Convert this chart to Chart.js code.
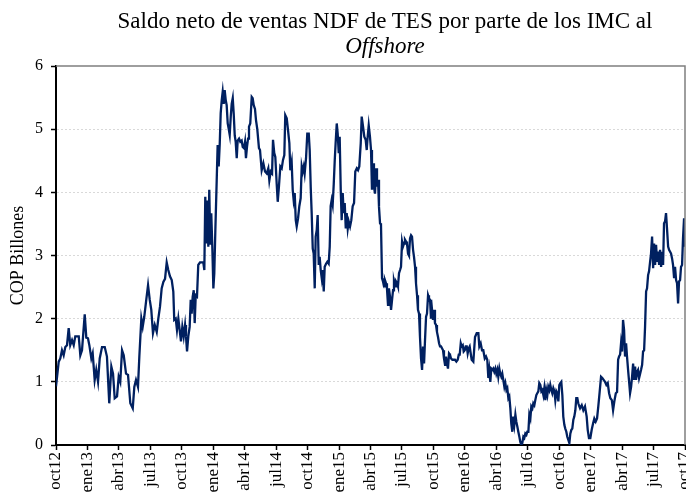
<!DOCTYPE html>
<html>
<head>
<meta charset="utf-8">
<script src="https://cdn.jsdelivr.net/npm/chart.js@4.4.1/dist/chart.umd.min.js"></script>
<style>
  html, body { margin: 0; padding: 0; background: #fff; overflow: hidden; }
  #wrap { position: relative; width: 686px; height: 495px; }
  .titulo { position: absolute; left: 42px; width: 686px; text-align: center;
            font-family: "Liberation Serif", "Times New Roman", serif; font-size: 23px;
            line-height: 25px; color: #000; white-space: nowrap; }
  canvas { position: absolute; left: 0; top: 0; }
</style>
</head>
<body>
<div id="wrap">
  <canvas id="saldoChart" width="686" height="495"></canvas>
  <div class="titulo" style="top: 8px;">Saldo neto de ventas NDF de TES por parte de los IMC al</div>
  <div class="titulo" style="top: 33px;"><i>Offshore</i></div>
</div>
<script>
// meses desde oct12 (oct12 = 0, oct17 = 60)
const meses = [
  0,0.26,0.41,0.57,0.73,0.89,1.05,1.21,1.36,1.53,
  1.69,1.84,2.17,2.32,2.48,2.64,2.74,2.89,3.05,3.18,
  3.37,3.5,3.69,3.84,4.01,4.17,4.39,4.65,4.86,5.08,
  5.28,5.44,5.6,5.82,5.98,6.13,6.3,6.46,6.68,6.87,
  7.09,7.32,7.47,7.63,7.82,7.95,8.14,8.27,8.42,8.59,
  8.78,8.94,9.09,9.25,9.42,
  9.61,9.76,9.92,10.08,10.24,10.4,10.56,10.71,10.87,11.04,
  11.19,11.28,11.42,11.54,11.67,11.83,11.92,12.05,12.18,12.31,
  12.4,12.5,12.62,12.75,12.85,12.94,13.04,13.14,13.23,13.33,
  13.45,13.57,13.74,14.05,14.15,14.24,14.34,14.43,14.53,14.62,
  14.72,14.81,14.91,15.01,15.1,15.2,15.33,15.42,15.52,15.62,
  15.71,15.81,15.9,16.0,16.09,16.19,16.28,16.38,16.47,16.57,
  16.67,16.76,16.86,16.95,17.05,17.14,17.24,17.33,17.46,17.58,
  17.71,17.81,17.93,18.03,18.12,18.22,18.32,18.41,18.53,18.67,
  18.76,18.86,18.98,19.08,19.2,19.36,
  19.46,19.62,19.78,19.94,20.1,20.25,20.35,20.48,20.61,20.7,
  20.82,20.92,21.05,21.15,21.27,21.4,21.53,21.65,21.78,21.87,
  22.01,22.13,22.26,22.35,22.48,22.58,22.67,22.77,22.87,22.96,
  23.09,23.21,23.34,23.44,23.53,23.63,23.72,23.85,23.97,24.11,
  24.2,24.3,24.39,24.49,24.58,24.68,24.77,24.87,24.96,25.06,
  25.15,25.25,25.35,25.44,25.54,25.63,25.76,25.88,26.01,26.11,
  26.2,26.3,26.39,26.49,26.59,26.68,26.78,26.87,26.97,27.06,
  27.16,27.25,27.35,27.44,27.54,27.64,27.73,27.83,27.92,28.05,
  28.17,28.3,28.43,28.55,28.69,28.81,28.93,29.07,29.16,29.29,
  29.41,29.54,29.64,29.73,29.83,29.95,
  30.05,30.14,30.24,30.33,30.43,30.53,30.62,30.72,30.81,30.91,
  31.0,31.1,31.19,31.29,31.38,31.48,31.57,31.67,31.76,31.86,
  31.96,32.05,32.15,32.24,32.34,32.43,32.53,32.62,32.72,32.82,
  32.91,33.01,33.1,33.2,33.29,33.39,33.48,33.58,33.67,33.77,
  33.87,33.96,34.06,34.15,34.25,34.34,34.44,34.53,34.63,34.72,
  34.82,34.92,35.01,35.11,35.2,35.3,35.39,35.49,35.58,35.68,
  35.77,35.87,35.96,36.06,36.15,36.25,36.34,36.44,36.54,36.63,
  36.73,36.82,36.92,37.01,37.11,37.2,37.3,37.39,37.49,37.58,
  37.68,37.81,37.94,38.06,38.19,38.32,38.42,38.51,38.61,38.7,
  38.8,38.89,38.99,39.08,39.18,39.27,39.37,39.46,
  39.65,39.81,39.97,40.13,40.29,40.38,40.51,40.64,40.76,40.9,
  41.02,41.14,41.24,41.33,41.43,41.52,41.62,41.71,41.81,41.91,
  42.0,42.1,42.19,42.29,42.38,42.48,42.57,42.67,42.77,42.86,
  42.96,43.05,43.15,43.24,43.34,43.43,43.53,43.62,43.72,43.82,
  43.91,44.01,44.1,44.2,44.29,44.39,44.48,44.58,44.67,44.77,
  44.87,44.96,45.06,45.15,45.25,45.34,45.44,45.53,45.63,45.72,
  45.82,45.91,46.01,46.1,46.2,46.3,46.39,46.49,46.58,46.68,
  46.77,46.87,46.96,47.06,47.15,47.25,47.34,47.44,47.54,47.63,
  47.73,47.82,47.92,48.01,48.11,48.2,48.3,48.39,48.49,48.58,
  48.68,48.77,48.87,48.97,49.06,49.16,49.25,49.35,49.44,49.54,
  49.63,49.73,49.82,49.92,
  49.99,50.15,50.3,50.46,50.62,50.72,50.84,50.97,51.1,51.23,
  51.35,51.48,51.61,51.73,51.86,51.99,52.11,52.24,52.37,52.5,
  52.63,52.76,52.88,53.02,53.14,53.26,53.4,53.52,53.62,53.71,
  53.81,53.9,54.0,54.09,54.19,54.28,54.38,54.47,54.57,54.67,
  54.76,54.86,54.95,55.05,55.14,55.24,55.33,55.43,55.52,55.62,
  55.72,55.81,55.91,56.0,56.1,56.19,56.29,56.38,56.48,56.57,
  56.67,56.76,56.86,56.96,57.05,57.15,57.24,57.34,57.43,57.53,
  57.62,57.72,57.81,57.91,58.0,58.1,58.19,58.29,58.39,58.48,
  58.58,58.67,58.77,58.86,58.96,59.05,59.15,59.24,59.34,59.43,
  59.53,59.62,59.72,59.81,59.91,60.0
];

// saldo neto, COP billones
const saldo = [
  0.93,1.32,1.37,1.5,1.42,1.55,1.58,1.85,1.58,1.66,
  1.58,1.72,1.72,1.42,1.5,1.85,2.07,1.7,1.69,1.58,
  1.37,1.45,1.03,1.19,1.0,1.37,1.55,1.55,1.4,0.66,
  1.24,1.13,0.74,0.77,1.08,1.0,1.5,1.42,1.13,1.11,
  0.66,0.58,0.92,1.03,0.92,1.4,2.0,1.87,2.03,2.27,
  2.53,2.3,2.14,1.77,1.9,
  1.79,2.0,2.19,2.48,2.58,2.63,2.89,2.77,2.67,2.61,
  2.43,1.98,2.0,1.82,2.0,1.77,1.64,1.87,1.72,1.9,
  1.72,1.48,1.72,1.87,2.3,2.08,2.35,2.45,1.93,2.37,
  2.35,2.85,2.89,2.89,2.77,3.93,3.19,3.87,3.14,4.04,
  3.17,3.67,3.14,2.48,2.72,3.4,4.19,4.75,4.41,4.77,
  5.25,5.46,5.59,5.4,5.62,5.46,5.38,5.09,5.01,4.91,
  5.2,5.4,5.49,5.25,4.9,4.8,4.54,4.82,4.85,4.8,
  4.82,4.72,4.7,4.8,4.54,4.72,4.85,5.04,5.09,5.51,
  5.49,5.38,5.32,5.14,5.0,4.7,
  4.67,4.35,4.46,4.33,4.3,4.38,4.19,4.33,4.3,4.83,
  4.62,4.56,4.14,3.85,4.1,4.41,4.38,4.51,4.59,5.22,
  5.17,4.99,4.78,4.35,4.48,4.04,3.88,3.99,3.56,3.46,
  3.59,3.78,3.91,4.41,4.33,4.41,4.3,4.54,4.93,4.93,
  4.67,4.07,3.67,3.11,3.03,2.48,3.3,3.4,3.64,2.85,
  2.98,2.77,2.64,2.77,2.43,2.82,2.87,2.9,2.87,3.14,
  3.78,3.88,3.8,4.12,4.51,4.8,5.09,4.93,4.62,4.88,
  4.04,3.56,3.99,3.67,3.83,3.43,3.67,3.43,3.54,3.46,
  3.56,3.78,3.83,4.33,4.38,4.35,4.41,4.78,5.2,5.04,
  4.88,4.83,4.67,4.88,5.06,4.88,
  4.67,4.04,4.46,4.09,3.98,4.38,4.09,4.2,3.77,3.51,
  3.49,2.64,2.59,2.51,2.61,2.56,2.48,2.22,2.48,2.35,
  2.14,2.14,2.45,2.59,2.51,2.59,2.56,2.51,2.72,2.77,
  2.82,3.22,3.14,3.19,3.25,3.22,3.19,3.03,3.0,3.27,
  3.32,3.3,3.09,2.98,2.82,2.56,2.37,2.14,2.08,1.71,
  1.37,1.19,1.56,1.29,1.66,2.03,2.08,2.37,2.32,2.3,
  2.0,2.14,1.98,2.14,1.93,1.9,1.79,1.71,1.61,1.56,
  1.56,1.56,1.5,1.37,1.27,1.4,1.29,1.21,1.45,1.43,
  1.37,1.35,1.35,1.35,1.32,1.35,1.43,1.43,1.61,1.56,
  1.58,1.48,1.5,1.56,1.56,1.45,1.53,1.56,
  1.35,1.32,1.71,1.77,1.77,1.56,1.61,1.5,1.5,1.37,
  1.4,1.35,1.06,1.19,1.0,1.21,1.19,1.21,1.16,1.21,
  1.13,1.19,1.08,1.21,1.13,1.08,1.13,1.03,0.92,0.98,
  0.87,0.9,0.74,0.77,0.58,0.34,0.21,0.45,0.32,0.48,
  0.37,0.29,0.21,0.13,0.05,0.0,0.03,0.13,0.11,0.18,
  0.16,0.21,0.21,0.48,0.42,0.61,0.58,0.66,0.63,0.71,
  0.79,0.82,0.85,0.98,0.95,0.85,0.87,0.79,0.9,0.71,
  0.87,0.79,0.92,0.87,0.95,0.87,0.82,0.9,0.85,0.71,
  0.85,0.82,0.69,0.95,0.98,1.0,0.79,0.45,0.32,0.26,
  0.21,0.13,0.08,0.03,0.18,0.24,0.26,0.4,0.45,0.55,
  0.74,0.74,0.66,0.61,
  0.58,0.63,0.55,0.61,0.45,0.24,0.11,0.11,0.24,0.34,
  0.42,0.37,0.42,0.61,0.84,1.08,1.06,1.03,1.0,0.95,
  0.98,0.82,0.74,0.71,0.55,0.69,0.82,0.84,1.35,1.4,
  1.43,1.61,1.48,1.98,1.82,1.4,1.61,1.4,1.19,1.0,
  0.82,0.92,1.08,1.29,1.03,1.24,1.03,1.16,1.19,1.06,
  1.13,1.19,1.27,1.48,1.5,1.87,2.43,2.48,2.69,2.75,
  2.9,3.03,3.3,2.8,3.19,2.85,3.17,2.9,3.06,2.85,
  3.09,2.82,3.06,2.85,3.51,3.54,3.67,3.41,3.14,3.09,
  3.06,3.03,2.95,2.85,2.64,2.82,2.61,2.56,2.24,2.59,
  2.61,2.82,2.85,3.27,3.59,3.14
];

// etiquetas trimestrales del eje x (cada 3 meses)
const etiquetas = ['oct12','ene13','abr13','jul13','oct13','ene14','abr14','jul14','oct14',
  'ene15','abr15','jul15','oct15','ene16','abr16','jul16','oct16','ene17','abr17','jul17','oct17'];

const serif = '"Liberation Serif", "Times New Roman", serif';

// marco gris arriba y a la derecha del area de grafico
const marco = {
  id: 'marco',
  afterDraw(chart) {
    const { ctx, chartArea: a } = chart;
    ctx.save();
    ctx.strokeStyle = '#7f7f7f';
    ctx.lineWidth = 1.5;
    ctx.beginPath();
    ctx.moveTo(a.left, a.top);
    ctx.lineTo(a.right, a.top);
    ctx.lineTo(a.right, a.bottom);
    ctx.stroke();
    ctx.restore();
  }
};

const ctx = document.getElementById('saldoChart').getContext('2d');
const saldoChart = new Chart(ctx, {
  type: 'line',
  data: {
    datasets: [{
      label: 'Saldo neto',
      data: meses.map((m, i) => ({ x: m, y: saldo[i] })),
      borderColor: '#002060',
      borderWidth: 2.3,
      pointRadius: 0,
      tension: 0,
      fill: false
    }]
  },
  options: {
    responsive: false,
    animation: false,
    layout: { padding: { top: 66, right: 1, left: 0, bottom: 0 } },
    plugins: {
      legend: { display: false },
      tooltip: { enabled: false }
    },
    scales: {
      x: {
        type: 'linear',
        min: 0,
        max: 60,
        ticks: {
          stepSize: 3,
          autoSkip: false,
          maxRotation: 90,
          minRotation: 90,
          padding: 2,
          color: '#000',
          font: { family: serif, size: 17 },
          callback: (v) => etiquetas[Math.round(v / 3)]
        },
        grid: { drawOnChartArea: false, tickLength: 5, tickColor: '#000', tickWidth: 1.5 },
        border: { color: '#000', width: 2 },
        afterFit: (s) => { s.height = 50; s.paddingLeft = 0; s.paddingRight = 0; }
      },
      y: {
        min: 0,
        max: 6,
        ticks: { stepSize: 1, padding: 8, color: '#000', font: { family: serif, size: 16 } },
        grid: {
          color: (c) => (c.tick && c.tick.value > 0 && c.tick.value < 6) ? '#d9d9d9' : 'rgba(0,0,0,0)',
          lineWidth: 1,
          tickColor: '#000',
          tickLength: 5,
          tickWidth: 1.5
        },
        border: { color: '#000', width: 2, dash: [2, 2] },
        title: { display: true, text: 'COP Billones', color: '#000', font: { family: serif, size: 18 }, padding: { top: 7, bottom: 0 } },
        afterFit: (s) => { s.width = 56; }
      }
    }
  },
  plugins: [marco]
});
</script>
</body>
</html>
